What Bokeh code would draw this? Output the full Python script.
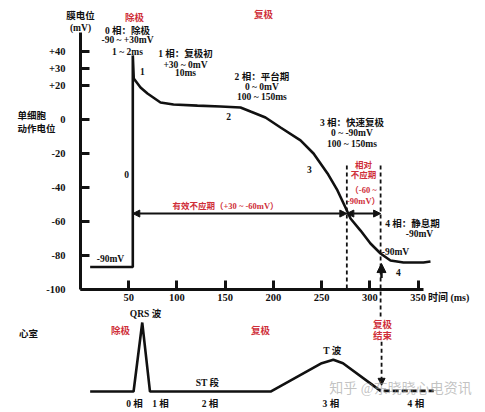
from bokeh.plotting import figure
from bokeh.models import Range1d, FixedTicker, Arrow, NormalHead, Label
from bokeh.embed import file_html
from bokeh.resources import INLINE

# ---------------- data ----------------
# single-cell action potential (time ms, membrane potential mV)
ap_time = [10, 54.2, 54.2, 55.2, 62.2, 69.4, 82.9, 96.4, 121.2, 145.1, 165.8,
           176.2, 191.7, 207.3, 228.0, 241.5, 256.0, 266.3, 274.6, 279.8,
           290.2, 300.5, 310.9, 321.2, 334.7, 355.4, 362.7]
ap_mv = [-87, -87, 37.4, 23.8, 18.5, 15.0, 9.7, 8.5, 7.9, 7.4, 6.8,
         4.4, 0.9, -5.0, -12.6, -20.3, -32.0, -42.0, -52.0, -58.5,
         -65.6, -73.2, -79.1, -83.2, -84.4, -84.4, -83.8]

# ventricular ECG (time ms, relative amplitude)
ecg_time = [10, 55, 64, 72, 197, 250, 262, 272, 306]
ecg_val = [0, 0, 1.0, 0, 0, 0.41, 0.46, 0.41, 0.06]
ecg_tail_time = [306, 311, 366]
ecg_tail_val = [0.06, 0.01, 0.01]

# axes ticks
x_ticks = [50, 100, 150, 200, 250, 300, 350]
y_ticks = [40, 30, 20, 0, -20, -40, -60, -80, -100]
y_tick_labels = ["+40", "+30", "+20", "0", "-20", "-40", "-60", "-80", "-100"]

# refractory periods (ms) and level (mV)
erp = [54.2, 276.0]
rrp = [276.0, 311.0]
refr_level = -55.6

# ---------------- figure ----------------
FONT = "Liberation Serif, Noto Sans CJK SC"
BLACK = "#111111"
RED = "#cf2f3a"

p = figure(width=485, height=412, output_backend="svg", toolbar_location=None,
           x_range=Range1d(-82.9, 419.7), y_range=Range1d(-172.6, 69.7),
           min_border=0)
p.extra_y_ranges = {"ecg": Range1d(-0.304, 5.667)}
p.outline_line_color = None
p.xgrid.visible = False
p.ygrid.visible = False
p.background_fill_color = "white"

for ax in (p.xaxis[0], p.yaxis[0]):
    ax.axis_line_width = 3
    ax.axis_line_color = BLACK
    ax.major_tick_line_width = 3
    ax.major_tick_line_color = BLACK
    ax.major_tick_out = 0
    ax.major_tick_in = 9
    ax.minor_tick_line_color = None
    ax.major_label_text_font = FONT
    ax.major_label_text_font_size = "10.5px"
    ax.major_label_text_font_style = "bold"
    ax.major_label_text_color = BLACK

p.xaxis.fixed_location = -100
p.yaxis.fixed_location = 0
p.xaxis.bounds = (0, 355)
p.yaxis.bounds = (-100, 51)
p.xaxis.ticker = FixedTicker(ticks=x_ticks)
p.yaxis.ticker = FixedTicker(ticks=y_ticks)
p.yaxis.major_label_overrides = {t: s for t, s in zip(y_ticks, y_tick_labels)}
p.xaxis.major_label_standoff = 5
p.yaxis.major_label_standoff = 15

# action potential
p.line(ap_time, ap_mv, line_width=2.6, line_color=BLACK)

# ECG
p.line(ecg_time, ecg_val, line_width=2.6, line_color=BLACK, y_range_name="ecg")
p.line(ecg_tail_time, ecg_tail_val, line_width=2.6, line_color=BLACK,
       line_dash="6 3", y_range_name="ecg")

# dashed vertical markers
p.segment(x0=[rrp[0], rrp[1]], y0=[-27.4, -27.4], x1=[rrp[0], rrp[1]],
          y1=[-101, -117], line_dash="4 3", line_width=1.8, line_color=BLACK)


def head(sz=7):
    return NormalHead(size=sz, fill_color=BLACK, line_color=BLACK)


p.add_layout(Arrow(start=head(), end=head(), x_start=erp[0], y_start=refr_level,
                   x_end=erp[1], y_end=refr_level, line_width=2, line_color=BLACK))
p.add_layout(Arrow(start=head(), end=head(), x_start=rrp[0], y_start=refr_level,
                   x_end=rrp[1], y_end=refr_level, line_width=2, line_color=BLACK))
p.add_layout(Arrow(end=head(9), x_start=311.9, y_start=-93.5, x_end=311.9, y_end=-85,
                   line_width=2.5, line_color=BLACK))
p.add_layout(Arrow(end=head(7), x_start=312, y_start=0.72, x_end=312, y_end=0.09,
                   line_width=1.8, line_dash="4 3", line_color=BLACK,
                   y_range_name="ecg"))


def lbl(x, y, text, color=BLACK, size="9.5px", style="bold", align="center",
        rng="default", alpha=1.0):
    p.add_layout(Label(x=x, y=y, text=text, text_color=color, text_font=FONT,
                       text_font_size=size, text_font_style=style,
                       text_align=align, text_baseline="middle",
                       y_range_name=rng, text_alpha=alpha))


# top panel texts
lbl(0, 60.3, "膜电位")
lbl(0, 53.8, "(mV)")
lbl(-65.3, 2.0, "单细胞", align="left")
lbl(-65.3, -5.6, "动作电位", align="left")
lbl(56, 59.7, "除极", color=RED)
lbl(189.6, 60.9, "复极", color=RED)
lbl(48.7, 52.0, "0 相：除极")
lbl(48.7, 46.2, "-90 ~ +30mV")
lbl(48.7, 39.7, "1 ~ 2ms")
lbl(64.2, 27.9, "1")
lbl(108.8, 38.5, "1 相：复极初")
lbl(108.8, 32.0, "+30 ~ 0mV")
lbl(108.8, 26.8, "10ms")
lbl(188.0, 25.0, "2 相：平台期")
lbl(188.0, 19.1, "0 ~ 0mV")
lbl(188.0, 13.2, "100 ~ 150ms")
lbl(153.4, 1.5, "2")
lbl(281.3, -2.6, "3 相：快速复极")
lbl(281.3, -8.5, "0 ~ -90mV")
lbl(281.3, -14.4, "100 ~ 150ms")
lbl(237.3, -29.7, "3")
lbl(47.7, -32.6, "0")
lbl(31.1, -82.6, "-90mV")
lbl(150.3, -50.9, "有效不应期（+30 ~ -60mV）", color=RED, size="8.5px")
lbl(293.3, -26.8, "相对", color=RED, size="8.5px")
lbl(293.3, -33.2, "不应期", color=RED, size="8.5px")
lbl(293.3, -42.0, "（-60 ~", color=RED, size="8.5px")
lbl(293.3, -48.0, "-90mV）", color=RED, size="8.5px")
lbl(326.4, -78.5, "-90mV")
lbl(329.5, -90.3, "4")
lbl(344.0, -61.5, "4 相：静息期")
lbl(351.3, -67.4, "-90mV")
lbl(381.5, -105.0, "时间 (ms)", size="10px")

# bottom (ECG) panel texts
lbl(-53.9, 0.84, "心室", rng="ecg")
lbl(67.4, 1.12, "QRS 波", rng="ecg")
lbl(41.5, 0.87, "除极", color=RED, rng="ecg")
lbl(186.5, 0.87, "复极", color=RED, rng="ecg")
lbl(131.6, 0.13, "ST 段", rng="ecg")
lbl(261.0, 0.59, "T 波", rng="ecg")
lbl(313.0, 0.96, "复极", color=RED, rng="ecg")
lbl(313.0, 0.81, "结束", color=RED, rng="ecg")
lbl(331.6, 0.04, "知乎 @东晓晓心电资讯", color="#9a9a9a", size="14px", rng="ecg",
    style="normal", alpha=0.6)
lbl(56.0, -0.188, "0 相", rng="ecg")
lbl(82.9, -0.188, "1 相", rng="ecg")
lbl(134.2, -0.188, "2 相", rng="ecg")
lbl(259.5, -0.188, "3 相", rng="ecg")
lbl(347.6, -0.188, "4 相", rng="ecg")

open("out.html", "w").write(file_html(p, INLINE))
